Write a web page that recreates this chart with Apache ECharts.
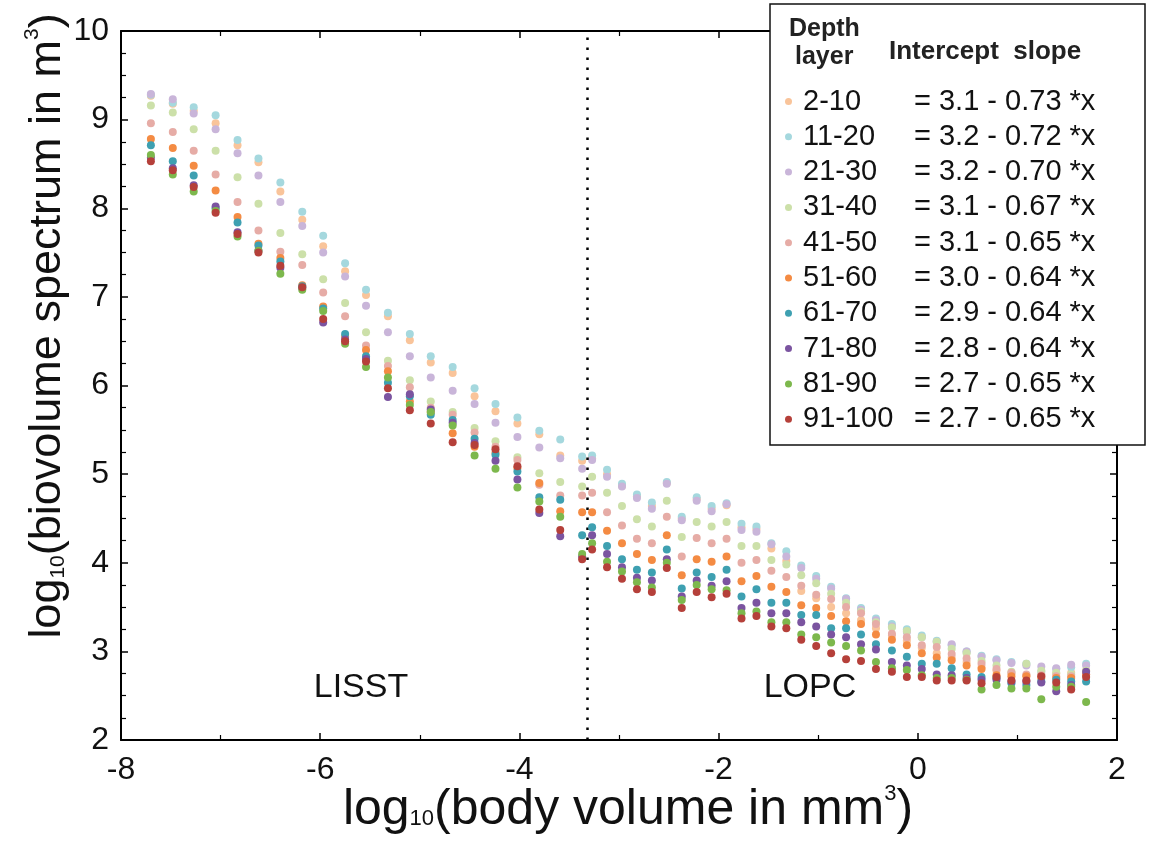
<!DOCTYPE html>
<html>
<head>
<meta charset="utf-8">
<script src="https://cdn.jsdelivr.net/npm/echarts@6/dist/echarts.min.js"></script>
<style>html,body{margin:0;padding:0;background:#fff}#c{width:1150px;height:846px}</style>
</head>
<body>
<div id="c"></div>
<script>
// x positions (log10 body volume) of the size classes
const xLISST = [-7.70, -7.48, -7.27, -7.05, -6.83, -6.62, -6.40, -6.18, -5.97, -5.75, -5.54, -5.32, -5.10, -4.89, -4.67, -4.45, -4.24, -4.02, -3.80, -3.59, -3.37];
const xLOPC = [-3.27, -3.12, -2.97, -2.82, -2.67, -2.52, -2.37, -2.22, -2.07, -1.92, -1.77, -1.62, -1.47, -1.32, -1.17, -1.02, -0.87, -0.72, -0.57, -0.42, -0.26, -0.11, 0.04, 0.19, 0.34, 0.49, 0.64, 0.79, 0.94, 1.09, 1.24, 1.39, 1.54, 1.69];
const instrumentBoundary = -3.32;

const layers = ['2-10', '11-20', '21-30', '31-40', '41-50', '51-60', '61-70', '71-80', '81-90', '91-100'];
const intercepts = ['3.1', '3.2', '3.2', '3.1', '3.1', '3.0', '2.9', '2.8', '2.7', '2.7'];
const slopes = ['0.73', '0.72', '0.70', '0.67', '0.65', '0.64', '0.64', '0.64', '0.65', '0.65'];
const colors = ['#F9C49A', '#A5D8DE', '#C9B5D9', '#CCE0A9', '#E6ACA6', '#F48B43', '#3EA0B1', '#7B54A0', '#7DB84D', '#B5403A'];

const y_2_10 = [9.27, 9.18, 9.10, 8.96, 8.71, 8.52, 8.19, 7.87, 7.57, 7.29, 7.02, 6.78, 6.51, 6.26, 6.14, 5.88, 5.71, 5.57, 5.45, 5.21, 5.15,
  5.18, 5.00, 4.87, 4.75, 4.64, 4.90, 4.50, 4.72, 4.61, 4.65, 4.40, 4.38, 4.16, 4.02, 3.68, 3.60, 3.50, 3.43, 3.35, 3.26, 3.18, 3.12, 3.04, 2.98, 2.93, 2.88, 2.82, 2.78, 2.75, 2.73, 2.74, 2.75, 2.76, 2.78];
const y_11_20 = [9.28, 9.19, 9.14, 9.05, 8.77, 8.56, 8.29, 7.96, 7.69, 7.38, 7.08, 6.82, 6.58, 6.33, 6.21, 5.97, 5.79, 5.64, 5.49, 5.39, 5.20,
  5.21, 5.05, 4.89, 4.77, 4.68, 4.91, 4.52, 4.74, 4.64, 4.67, 4.44, 4.41, 4.22, 4.13, 3.97, 3.85, 3.73, 3.60, 3.49, 3.37, 3.31, 3.25, 3.18, 3.12, 3.07, 3.00, 2.95, 2.91, 2.88, 2.86, 2.77, 2.80, 2.82, 2.86];
const y_21_30 = [9.29, 9.23, 9.07, 8.89, 8.62, 8.37, 8.07, 7.80, 7.50, 7.23, 6.90, 6.60, 6.33, 6.09, 5.94, 5.79, 5.58, 5.42, 5.30, 5.18, 5.06,
  5.16, 4.97, 4.86, 4.73, 4.61, 4.89, 4.48, 4.70, 4.58, 4.66, 4.37, 4.35, 4.21, 4.07, 3.94, 3.82, 3.71, 3.59, 3.47, 3.35, 3.28, 3.22, 3.16, 3.11, 3.08, 3.00, 2.94, 2.90, 2.87, 2.84, 2.83, 2.81, 2.85, 2.84];
const y_31_40 = [9.16, 9.08, 8.89, 8.65, 8.35, 8.05, 7.72, 7.48, 7.20, 6.93, 6.60, 6.28, 6.06, 5.82, 5.70, 5.52, 5.37, 5.19, 5.01, 4.91, 4.86,
  4.97, 4.79, 4.64, 4.49, 4.41, 4.70, 4.29, 4.46, 4.41, 4.46, 4.19, 4.19, 4.03, 3.98, 3.86, 3.77, 3.65, 3.55, 3.45, 3.33, 3.27, 3.23, 3.16, 3.11, 3.03, 2.98, 2.89, 2.84, 2.77, 2.86, 2.78, 2.76, 2.74, 2.78];
const y_41_50 = [8.96, 8.86, 8.65, 8.38, 8.07, 7.75, 7.51, 7.36, 7.05, 6.78, 6.45, 6.22, 5.98, 5.75, 5.67, 5.47, 5.31, 5.16, 4.88, 4.76, 4.76,
  4.79, 4.57, 4.42, 4.27, 4.22, 4.52, 4.07, 4.28, 4.22, 4.27, 4.00, 4.03, 3.91, 3.84, 3.74, 3.64, 3.59, 3.50, 3.43, 3.31, 3.20, 3.16, 3.07, 3.05, 2.97, 2.92, 2.86, 2.80, 2.76, 2.74, 2.73, 2.72, 2.72, 2.74];
const y_51_60 = [8.78, 8.68, 8.48, 8.20, 7.90, 7.60, 7.44, 7.13, 6.89, 6.55, 6.40, 6.16, 5.82, 5.70, 5.46, 5.31, 5.24, 5.07, 4.90, 4.58, 4.57,
  4.57, 4.36, 4.22, 4.10, 4.03, 4.31, 3.86, 4.04, 4.01, 4.07, 3.79, 3.85, 3.73, 3.67, 3.52, 3.49, 3.40, 3.34, 3.31, 3.19, 3.13, 3.07, 2.98, 2.93, 2.90, 2.84, 2.80, 2.73, 2.72, 2.72, 2.70, 2.70, 2.70, 2.74];
const y_61_70 = [8.71, 8.53, 8.37, 8.00, 7.84, 7.58, 7.40, 7.12, 6.87, 6.58, 6.33, 6.03, 5.88, 5.67, 5.61, 5.40, 5.22, 5.03, 4.74, 4.71, 4.31,
  4.40, 4.19, 4.04, 3.92, 3.89, 4.15, 3.71, 3.89, 3.84, 3.92, 3.62, 3.70, 3.55, 3.55, 3.41, 3.41, 3.26, 3.26, 3.19, 3.08, 3.01, 2.94, 2.86, 2.86, 2.81, 2.74, 2.71, 2.70, 2.64, 2.62, 2.66, 2.68, 2.66, 2.66];
const y_71_80 = [8.57, 8.45, 8.26, 8.02, 7.73, 7.52, 7.33, 7.10, 6.71, 6.52, 6.30, 5.87, 5.90, 5.73, 5.58, 5.35, 5.15, 4.94, 4.56, 4.30, 4.07,
  4.31, 4.10, 3.95, 3.83, 3.80, 4.04, 3.62, 3.80, 3.74, 3.79, 3.49, 3.55, 3.43, 3.43, 3.33, 3.28, 3.19, 3.16, 3.08, 3.02, 2.88, 2.84, 2.80, 2.74, 2.73, 2.70, 2.68, 2.68, 2.66, 2.66, 2.65, 2.55, 2.62, 2.77];
const y_81_90 = [8.60, 8.38, 8.19, 7.97, 7.68, 7.52, 7.26, 7.08, 6.84, 6.47, 6.21, 6.09, 5.78, 5.70, 5.55, 5.21, 5.06, 4.85, 4.69, 4.52, 4.10,
  4.22, 4.01, 3.90, 3.78, 3.72, 4.00, 3.58, 3.75, 3.70, 3.69, 3.43, 3.45, 3.33, 3.33, 3.19, 3.16, 3.10, 3.06, 3.01, 2.88, 2.81, 2.79, 2.73, 2.70, 2.70, 2.68, 2.57, 2.62, 2.58, 2.58, 2.46, 2.60, 2.60, 2.43];
const y_91_100 = [8.53, 8.43, 8.24, 7.95, 7.71, 7.50, 7.35, 7.11, 6.75, 6.50, 6.27, 5.97, 5.72, 5.57, 5.36, 5.33, 5.28, 5.09, 4.60, 4.37, 4.04,
  4.15, 3.95, 3.82, 3.70, 3.67, 3.94, 3.49, 3.67, 3.61, 3.65, 3.37, 3.40, 3.28, 3.26, 3.13, 3.06, 2.98, 2.91, 2.89, 2.80, 2.77, 2.71, 2.71, 2.67, 2.67, 2.67, 2.64, 2.71, 2.67, 2.67, 2.72, 2.65, 2.57, 2.71];

const allY = [y_2_10, y_11_20, y_21_30, y_31_40, y_41_50, y_51_60, y_61_70, y_71_80, y_81_90, y_91_100];
const xAll = xLISST.concat(xLOPC);

const FONT = '"Liberation Sans", Arial, Helvetica, sans-serif';

const series = layers.map((name, i) => ({
  name: name,
  type: 'scatter',
  symbol: 'circle',
  symbolSize: 8,
  itemStyle: { color: colors[i], opacity: 1 },
  data: xAll.map((x, k) => [x, allY[i][k]]),
  z: 2 + i
}));
series[0].markLine = {
  silent: true,
  symbol: ['none', 'none'],
  label: { show: false },
  lineStyle: { color: '#000', width: 2.5, type: [2.5, 7.5] },
  data: [{ xAxis: instrumentBoundary }]
};

const eqByName = {};
layers.forEach((n, i) => { eqByName[n] = '= ' + intercepts[i] + ' - ' + slopes[i] + ' *x'; });

const chart = echarts.init(document.getElementById('c'), null, { renderer: 'canvas' });
const axisCommon = {
  axisLine: { show: true, onZero: false, lineStyle: { color: '#000', width: 2 } },
  axisTick: { show: true, inside: true, length: 7, lineStyle: { color: '#000', width: 1.5 } },
  minorTick: { show: true, length: 5, lineStyle: { color: '#000', width: 1.2 } },
  splitLine: { show: false },
  minorSplitLine: { show: false }
};
chart.setOption({
  animation: false,
  backgroundColor: '#fff',
  grid: { left: 121, right: 33, top: 31, bottom: 106, containLabel: false },
  xAxis: [
    Object.assign({}, axisCommon, {
      type: 'value', min: -8, max: 2, interval: 2, position: 'bottom',
      minorTick: Object.assign({}, axisCommon.minorTick, { splitNumber: 2 }),
      axisLabel: { color: '#111', fontSize: 32, fontFamily: FONT, margin: 14 }
    }),
    Object.assign({}, axisCommon, {
      type: 'value', min: -8, max: 2, interval: 2, position: 'top',
      minorTick: Object.assign({}, axisCommon.minorTick, { splitNumber: 2 }),
      axisLabel: { show: false }
    })
  ],
  yAxis: [
    Object.assign({}, axisCommon, {
      type: 'value', min: 2, max: 10, interval: 1, position: 'left',
      minorTick: Object.assign({}, axisCommon.minorTick, { splitNumber: 4 }),
      axisLabel: { color: '#111', fontSize: 32, fontFamily: FONT, margin: 12 }
    }),
    Object.assign({}, axisCommon, {
      type: 'value', min: 2, max: 10, interval: 1, position: 'right',
      minorTick: Object.assign({}, axisCommon.minorTick, { splitNumber: 4 }),
      axisLabel: { show: false }
    })
  ],
  legend: {
    show: true,
    orient: 'vertical',
    left: 785,
    top: 87,
    padding: 0,
    itemGap: 6.3,
    itemWidth: 7,
    itemHeight: 7,
    icon: 'circle',
    z: 20,
    data: layers,
    formatter: function (name) { return '{n|' + name + '}{e|' + eqByName[name] + '}'; },
    textStyle: {
      color: '#111', fontSize: 29, fontFamily: FONT, lineHeight: 26,
      padding: [0, 0, 0, 6],
      rich: {
        n: { fontSize: 29, fontFamily: FONT, color: '#111', width: 111, lineHeight: 26 },
        e: { fontSize: 29, fontFamily: FONT, color: '#111', lineHeight: 26 }
      }
    }
  },
  graphic: [
    { type: 'rect', z: 15, shape: { x: 770, y: 4, width: 375, height: 441 }, style: { fill: '#fff', stroke: '#111', lineWidth: 1.5 } },
    { type: 'text', z: 16, x: 789, y: 29, style: { text: 'Depth', font: 'bold 25px ' + FONT, fill: '#222', verticalAlign: 'middle' } },
    { type: 'text', z: 16, x: 795, y: 57, style: { text: 'layer', font: 'bold 25px ' + FONT, fill: '#222', verticalAlign: 'middle' } },
    { type: 'text', z: 16, x: 889, y: 52, style: { text: 'Intercept  slope', font: 'bold 26px ' + FONT, fill: '#222', verticalAlign: 'middle' } },
    { type: 'text', z: 10, x: 361, y: 688, style: { text: 'LISST', font: '34px ' + FONT, fill: '#111', align: 'center', verticalAlign: 'middle' } },
    { type: 'text', z: 10, x: 810, y: 688, style: { text: 'LOPC', font: '34px ' + FONT, fill: '#111', align: 'center', verticalAlign: 'middle' } },
    {
      type: 'text', z: 10, x: 628, y: 810,
      style: {
        text: '{a|log}{s|10}{a|(body volume in mm}{p|3}{a|)}',
        align: 'center', verticalAlign: 'middle', fill: '#111',
        rich: {
          a: { fontSize: 50, fontFamily: FONT, lineHeight: 54, fill: '#111' },
          s: { fontSize: 22, fontFamily: FONT, lineHeight: 22, verticalAlign: 'bottom', padding: [0, 0, 7, 0], fill: '#111' },
          p: { fontSize: 22, fontFamily: FONT, lineHeight: 22, verticalAlign: 'top', fill: '#111' }
        }
      }
    },
    {
      type: 'text', z: 10, x: 48, y: 326, rotation: Math.PI / 2,
      style: {
        text: '{a|log}{s|10}{a|(biovolume spectrum in m}{p|3}{a|)}',
        align: 'center', verticalAlign: 'middle', fill: '#111',
        rich: {
          a: { fontSize: 45, fontFamily: FONT, lineHeight: 52, fill: '#111' },
          s: { fontSize: 21, fontFamily: FONT, lineHeight: 21, verticalAlign: 'bottom', padding: [0, 0, 5, 0], fill: '#111' },
          p: { fontSize: 21, fontFamily: FONT, lineHeight: 21, verticalAlign: 'top', fill: '#111' }
        }
      }
    }
  ],
  series: series
});
</script>
</body>
</html>
